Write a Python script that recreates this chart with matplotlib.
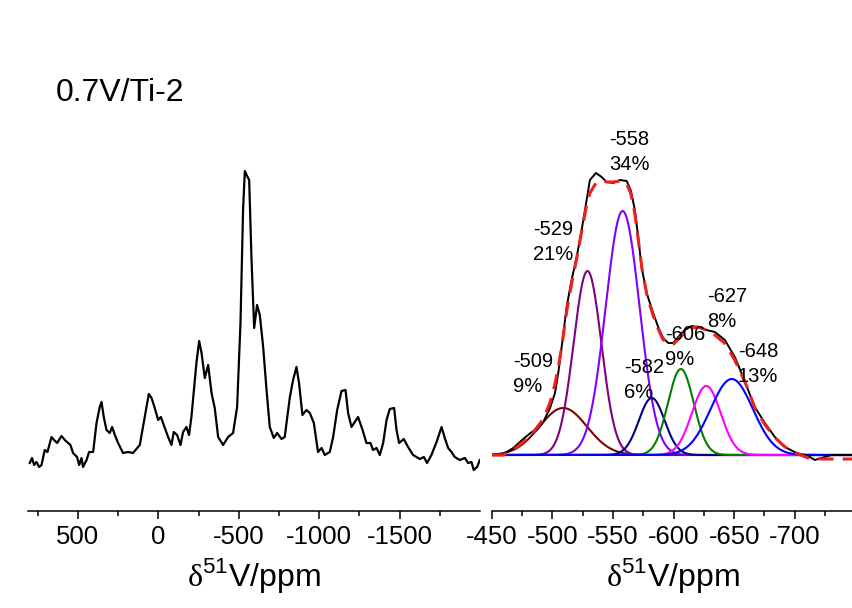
import matplotlib.pyplot as plt
import numpy as np

plt.rcParams['font.family'] = ['Liberation Sans', 'DejaVu Sans']
plt.rcParams['mathtext.fontset'] = 'custom'
plt.rcParams['mathtext.rm'] = 'Liberation Serif'
plt.rcParams['mathtext.sf'] = 'Liberation Sans'
plt.rcParams['axes.unicode_minus'] = False

# full 51V MAS spectrum (ppm, intensity)
wide_ppm = [799, 785, 772, 757, 741, 726, 706, 689, 664, 648, 629, 602, 581, 561, 546, 530,
            505, 492, 477, 468, 446, 430, 405, 384, 364, 353, 339, 322, 302, 287, 270, 250,
            219, 188, 157, 115, 84, 59, 42, 22, 1, -16, -34, -61, -82, -96, -117, -138,
            -154, -175, -191, -206, -237, -254, -269, -289, -310, -331, -351, -372, -403, -434,
            -465, -490, -511, -527, -538, -552, -565, -579, -596, -614, -631, -652, -673, -693,
            -718, -739, -766, -786, -818, -838, -859, -875, -896, -921, -942, -967, -993, -1015,
            -1035, -1066, -1087, -1112, -1139, -1164, -1180, -1201, -1242, -1270, -1294, -1319,
            -1335, -1357, -1377, -1398, -1419, -1439, -1466, -1481, -1497, -1526, -1553, -1584,
            -1626, -1651, -1671, -1698, -1730, -1761, -1781, -1802, -1823, -1843, -1874, -1906,
            -1926, -1947, -1961, -1982, -1999]
wide_int = [-3, 2, -5, -2, -7, -5, 10, 8, 23, 20, 17, 24, 20, 17, 15, 7,
            3, -5, 2, -7, 0, 8, 8, 37, 53, 58, 43, 30, 27, 33, 25, 17,
            7, 8, 7, 15, 43, 66, 62, 52, 40, 43, 35, 23, 15, 28, 25, 15,
            28, 33, 25, 43, 97, 119, 107, 82, 95, 67, 52, 23, 15, 23,
            27, 53, 137, 250, 289, 284, 280, 203, 132, 155, 145, 113, 70, 33,
            22, 27, 21, 23, 63, 80, 93, 77, 45, 50, 47, 37, 8, 12,
            5, 8, 23, 50, 69, 70, 47, 33, 43, 30, 17, 17,
            10, 12, 5, 17, 40, 51, 52, 30, 17, 21, 13, 5,
            1, 3, -3, 5, 18, 33, 22, 12, 8, 3, 0, 2,
            -3, -2, -10, -7, 0]

# central band, experimental
exp_ppm = [-450, -459.6, -467.8, -476.0, -483.0, -487.1, -492.5, -498.1, -502.2, -504.9, -507.7,
           -511.8, -515.9, -520.1, -524.2, -528.3, -531.0, -536.0, -540.7, -544.8, -550.2,
           -555.8, -561.3, -564.6, -568.1, -570.8, -573.6, -577.8, -583.2, -587.3, -591.4,
           -595.6, -599.7, -603.8, -609.3, -614.9, -620.3, -627.2, -634.1, -642.3, -650.5,
           -657.4, -661.5, -667.0, -675.3, -683.5, -691.8, -701.4, -711.0, -716.5, -722.0,
           -730.2, -748]
exp_int = [0, 1, 7, 16, 23, 25, 33, 47, 62, 82, 108,
           148, 175, 198, 225, 255, 275, 282, 278, 273, 272,
           275, 274, 265, 245, 218, 188, 162, 142, 128, 117,
           112, 112, 118, 125, 129, 128, 125, 123, 115, 98,
           78, 65, 48, 32, 18, 8, 2, -1, -5, -3,
           0, 0]

# cumulative fit
fit_ppm = [-450, -459.6, -467.8, -476, -483, -487, -492.5, -498, -502, -505, -508, -512, -516,
           -520, -524, -528, -531, -536, -541, -545, -550, -556, -561, -564.6, -568, -571,
           -574, -578, -583, -587, -591, -595.6, -600, -604, -609, -615, -620, -627, -634,
           -642, -650, -657, -662, -667, -675, -683, -692, -701, -711, -722, -735, -748]
fit_int = [0, 0, 5, 13, 21, 27, 36, 52, 70, 88, 110, 145, 172,
           196, 222, 248, 262, 272, 274, 273, 273, 274, 272, 262, 242, 214,
           186, 160, 140, 127, 116, 111, 111, 116, 122, 127, 128, 125, 120,
           112, 96, 78, 64, 47, 31, 18, 8, 2, -3, -4, -4, -4]

# gaussian components
centers = [-509, -529, -558, -582, -606, -627, -648]
heights = [47, 184, 244, 57, 86, 69, 76]
fwhm = [46, 27, 33, 25, 25, 28, 41]
percents = ['9%', '21%', '34%', '6%', '9%', '8%', '13%']
comp_colors = ['#800000', '#800080', '#8000ff', '#000080', '#008000', '#ff00ff', '#0000ff']
label_xy = [(-467.6, 88), (-484, 220), (-546.8, 310), (-559, 82),
            (-592.8, 115), (-627.4, 153), (-653, 98)]

W, H = 853, 608
fig = plt.figure(figsize=(W / 100, H / 100), dpi=100)
ax1 = fig.add_axes([28 / W, 1 - 511 / H, (480 - 28) / W, 501 / H])
ax2 = fig.add_axes([491.7 / W, 1 - 511 / H, (W - 491.7) / W, 501 / H])

ax1.plot(wide_ppm, wide_int, color='black', lw=1.6)
ax1.set_xlim(810, -2000)
ax1.set_ylim(-51, 450)
ax1.set_xticks([500, 0, -500, -1000, -1500])
ax1.set_xticks([750, 250, -250, -750, -1250, -1750], minor=True)

x = np.linspace(-450, -748, 800)
for c, h, w, col in zip(centers, heights, fwhm, comp_colors):
    s = w / 2.3548
    ax2.plot(x, h * np.exp(-0.5 * ((x - c) / s) ** 2), color=col, lw=1.5)
ax2.plot(exp_ppm, exp_int, color='black', lw=1.4)
ax2.plot(fit_ppm, fit_int, color='#e8221c', lw=2.2, ls=(0, (5, 3)))
for c, p, (lx, ly) in zip(centers, percents, label_xy):
    ax2.text(lx, ly, str(c), fontsize=14.5, ha='left', va='baseline')
    ax2.text(lx, ly - 25, p, fontsize=14.5, ha='left', va='baseline')
ax2.set_xlim(-450, -748)
ax2.set_ylim(-56, 445)
ax2.set_xticks(np.arange(-450, -701, -50))
ax2.set_xticks(np.arange(-475, -726, -50), minor=True)

for ax in (ax1, ax2):
    for side in ('top', 'left', 'right'):
        ax.spines[side].set_visible(False)
    ax.spines['bottom'].set_linewidth(1.1)
    ax.set_yticks([])
    ax.patch.set_alpha(0)
    ax.tick_params(axis='x', which='major', direction='out', length=6, width=1.1,
                   labelsize=18.5, pad=4)
    ax.tick_params(axis='x', which='minor', direction='out', length=3.5, width=1.1)
    ax.set_xlabel(r'$\mathrm{\delta}^{\mathsf{51}}$V/ppm', fontsize=23, labelpad=5)

fig.text(56 / W, 1 - 101 / H, '0.7V/Ti-2', fontsize=23, ha='left', va='baseline')

fig.savefig('out.png', dpi=100)
